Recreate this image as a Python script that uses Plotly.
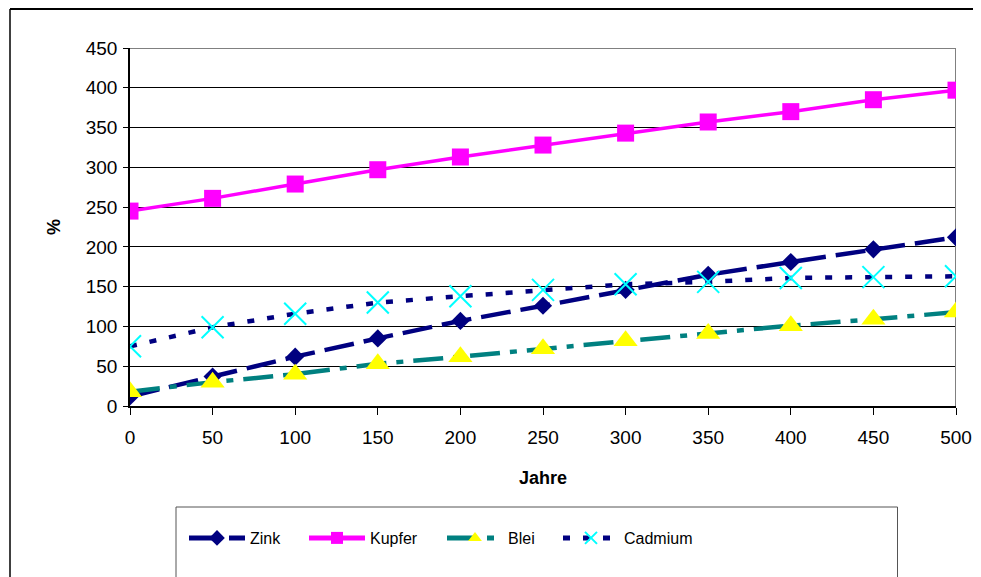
import plotly.graph_objects as go

years = [0, 50, 100, 150, 200, 250, 300, 350, 400, 450, 500]
zink = [12, 37, 62, 85, 107, 126, 146, 165, 181, 197, 212]
kupfer = [245, 261, 279, 297, 313, 328, 343, 357, 370, 385, 397]
blei = [18, 30, 40, 53, 62, 72, 82, 91, 101, 109, 118]
cadmium = [75, 99, 116, 130, 138, 146, 153, 156, 161, 162, 163]

y_ticks = [0, 50, 100, 150, 200, 250, 300, 350, 400, 450]

# page is 981x577; the html body has an 8px margin
OFF = 8
W, H = 981 - OFF, 577 - OFF
# plot area in page pixels
L, R, T, B = 130, 956, 48, 406


def px(x):
    return (x - L) / (R - L)


def py(y):
    return (B - y) / (B - T)


FONT = "Liberation Sans, Arial, sans-serif"

fig = go.Figure()
fig.add_trace(go.Scatter(
    x=years, y=zink, name="Zink", mode="lines+markers", legend="legend",
    line=dict(color="#000080", width=4.5, dash="30px,10px"),
    marker=dict(symbol="diamond", size=14, color="#000080")))
fig.add_trace(go.Scatter(
    x=years, y=kupfer, name="Kupfer", mode="lines+markers", legend="legend2",
    line=dict(color="#FF00FF", width=3.5),
    marker=dict(symbol="square", size=17, color="#FF00FF")))
fig.add_trace(go.Scatter(
    x=years, y=blei, name="Blei", mode="lines+markers", legend="legend3",
    line=dict(color="#008080", width=4.5, dash="30px,10px,7px,10px"),
    marker=dict(symbol="triangle-up", size=21, color="#FFFF00")))
fig.add_trace(go.Scatter(
    x=years, y=cadmium, name="Cadmium", mode="lines+markers", legend="legend4",
    line=dict(color="#000080", width=4.5, dash="7px,13px"),
    marker=dict(symbol="x-thin", size=22, color="#00FFFF",
                line=dict(color="#00FFFF", width=2))))

shapes = [
    # outer chart border (left and top)
    dict(type="line", xref="paper", yref="paper", x0=px(10), x1=px(990),
         y0=py(OFF + 1), y1=py(OFF + 1), line=dict(color="#000000", width=2)),
    dict(type="line", xref="paper", yref="paper", x0=px(10), x1=px(10),
         y0=py(OFF + 1), y1=py(600), line=dict(color="#000000", width=1.5)),
    # plot area gray border (top and right)
    dict(type="line", xref="x", yref="y", x0=0, x1=500, y0=450, y1=450,
         line=dict(color="#808080", width=2), layer="between"),
    dict(type="line", xref="x", yref="y", x0=500, x1=500, y0=0, y1=450,
         line=dict(color="#808080", width=2), layer="between"),
    # legend box
    dict(type="rect", xref="paper", yref="paper", x0=px(176), x1=px(897.5),
         y0=py(507), y1=py(600), line=dict(color="#555555", width=1)),
]


def leg(x_line_start):
    return dict(orientation="h", x=px(x_line_start - 5), y=py(538),
                xanchor="left", yanchor="middle", font=dict(size=16),
                itemwidth=56, itemsizing="constant", bgcolor="rgba(0,0,0,0)")


fig.update_layout(
    width=W, height=H,
    margin=dict(l=L - OFF, r=W - (R - OFF), t=T - OFF, b=H - (B - OFF),
                autoexpand=False),
    paper_bgcolor="white", plot_bgcolor="white",
    font=dict(family=FONT, size=19, color="black"),
    showlegend=True,
    legend=leg(189),
    legend2=leg(309),
    legend3=leg(447),
    legend4=leg(563),
    shapes=shapes,
    xaxis=dict(range=[0, 500], tickvals=years, ticktext=[str(v) for v in years],
               showgrid=False, zeroline=False, showline=True,
               linecolor="black", linewidth=1.5, ticks="outside", ticklen=7,
               tickcolor="black", ticklabelstandoff=6,
               title=dict(text="<b>Jahre</b>", font=dict(size=18), standoff=25)),
    yaxis=dict(range=[0, 450], tickvals=y_ticks, ticktext=[str(v) for v in y_ticks],
               showgrid=True, gridcolor="black", gridwidth=1, zeroline=False,
               showline=True, linecolor="black", linewidth=1.5,
               ticks="outside", ticklen=5, tickcolor="black",
               ticklabelstandoff=2,
               title=dict(text="<b>%</b>", font=dict(size=18), standoff=20)),
)

fig.write_html("out.html")
